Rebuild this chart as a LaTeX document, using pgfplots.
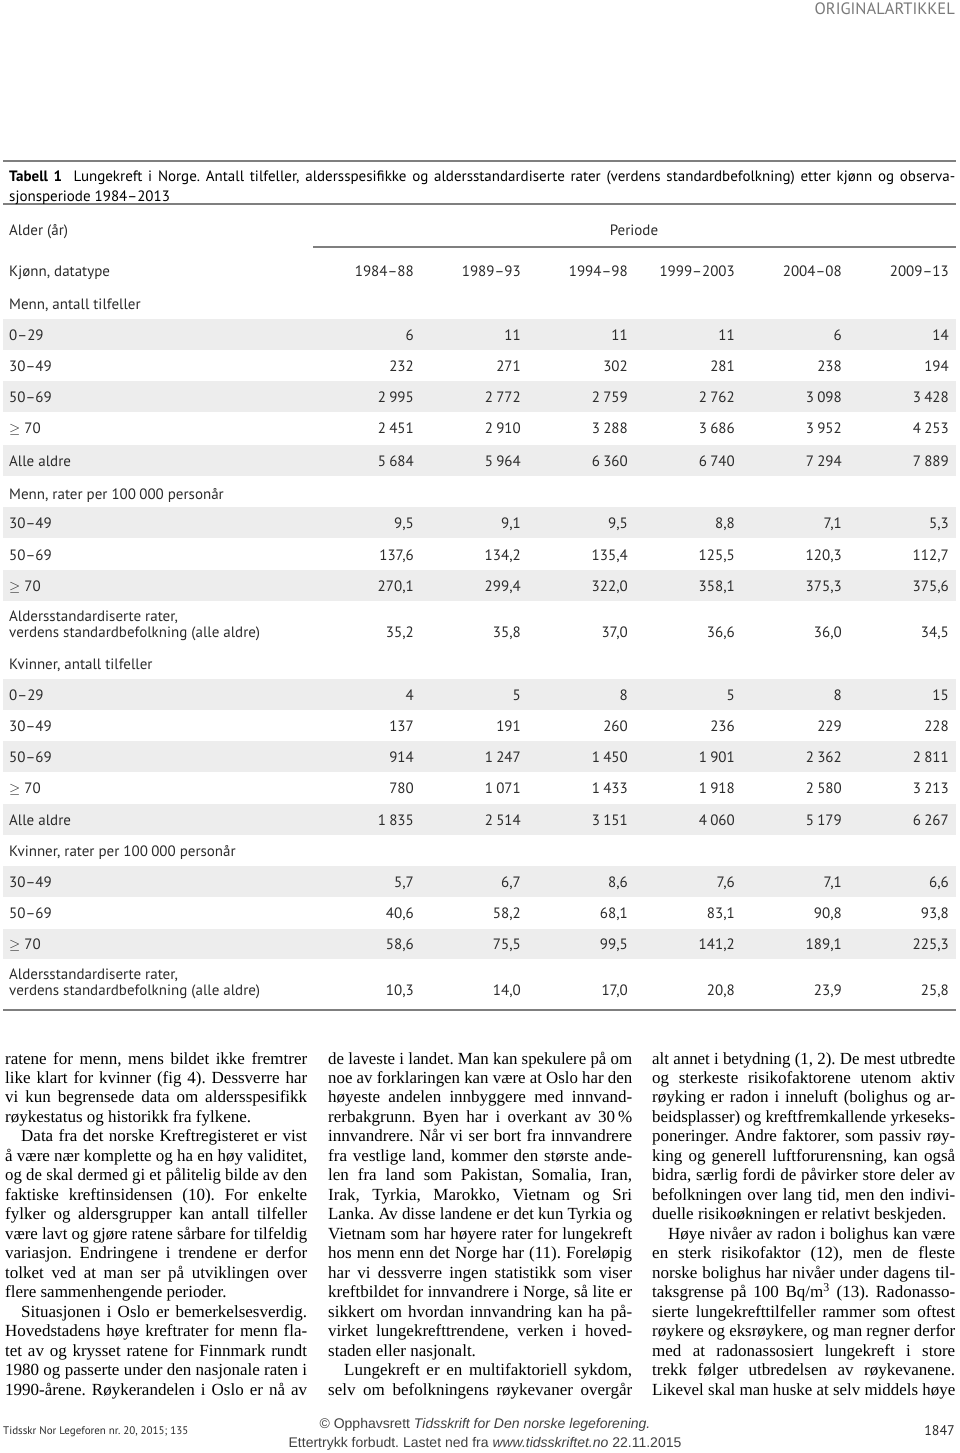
\documentclass[border=0pt]{standalone}
\usepackage{pgfplots}
\pgfplotsset{compat=1.18}
\usepackage{pgfplotstable}
\usepackage{graphicx}
\usepackage{fontspec}
\setmainfont{PT Sans}
\newfontfamily\tabfont[Ligatures=TeX]{PT Sans}
\newfontfamily\bodyfont[Ligatures=TeX]{Liberation Serif}
\newfontfamily\footfont{Liberation Sans}
\definecolor{tabtext}{HTML}{2B2B2B}
\definecolor{bandgray}{HTML}{EDEDED}
\definecolor{rulegray}{HTML}{7F7F7F}
\definecolor{headgray}{HTML}{7A7A7A}

\newlength\jlw
\newcommand\jline[2]{\settowidth\jlw{#2}\ifdim\jlw>#1\relax\resizebox{#1}{\height}{#2}\else\makebox[#1][s]{#2}\fi}
\newcommand\tf{\tabfont\fontsize{15}{17}\selectfont}
\newcommand\bodyf{\bodyfont\fontsize{17}{19}\selectfont}

\tikzset{
  lab/.style={anchor=base west, inner sep=0pt, font=\tf, text=tabtext},
  hd/.style={anchor=base east, inner sep=0pt, font=\tf, text=tabtext},
  bt/.style={anchor=base west, inner sep=0pt, font=\bodyf, text=black},
}

% y = baseline of the row (pixels from top)
\pgfplotstableread{
y c1 c2 c3 c4 c5 c6
340 6 11 11 11 6 14
371 232 271 302 281 238 194
402 2995 2772 2759 2762 3098 3428
433 2451 2910 3288 3686 3952 4253
466 5684 5964 6360 6740 7294 7889
}\menncount
\pgfplotstableread{
y c1 c2 c3 c4 c5 c6
528 9.5 9.1 9.5 8.8 7.1 5.3
560 137.6 134.2 135.4 125.5 120.3 112.7
591 270.1 299.4 322.0 358.1 375.3 375.6
637 35.2 35.8 37.0 36.6 36.0 34.5
}\mennrate
\pgfplotstableread{
y c1 c2 c3 c4 c5 c6
700 4 5 8 5 8 15
731 137 191 260 236 229 228
762 914 1247 1450 1901 2362 2811
793 780 1071 1433 1918 2580 3213
825 1835 2514 3151 4060 5179 6267
}\kvinnercount
\pgfplotstableread{
y c1 c2 c3 c4 c5 c6
887 5.7 6.7 8.6 7.6 7.1 6.6
918 40.6 58.2 68.1 83.1 90.8 93.8
949 58.6 75.5 99.5 141.2 189.1 225.3
995 10.3 14.0 17.0 20.8 23.9 25.8
}\kvinnerrate

\pgfplotsset{
  valstyle/.style={draw=none, mark=none, nodes near coords, point meta=explicit,
    every node near coord/.append style={anchor=base east, inner sep=0pt, font=\tf, text=tabtext}},
  countval/.style={valstyle, nodes near coords={\pgfmathprintnumber[fixed,precision=0,1000 sep={\hspace{0.22em}},assume math mode=true]{\pgfplotspointmeta}}},
  rateval/.style={valstyle, nodes near coords={\pgfmathprintnumber[fixed,fixed zerofill,precision=1,use comma,1000 sep={},assume math mode=true]{\pgfplotspointmeta}}},
}
\newcommand\valcols[2]{%
  \addplot[#2] table[x expr=414,y=y,meta=c1]{#1};
  \addplot[#2] table[x expr=521,y=y,meta=c2]{#1};
  \addplot[#2] table[x expr=628,y=y,meta=c3]{#1};
  \addplot[#2] table[x expr=735,y=y,meta=c4]{#1};
  \addplot[#2] table[x expr=842,y=y,meta=c5]{#1};
  \addplot[#2] table[x expr=949,y=y,meta=c6]{#1};
}

\begin{document}
\frenchspacing
\begin{tikzpicture}
\begin{axis}[
  width=960pt, height=1453pt, scale only axis,
  xmin=0, xmax=960, ymin=0, ymax=1453, y dir=reverse,
  hide axis, clip=false,
]
\fill[white] (axis cs:0,0) rectangle (axis cs:960,1453);

% header
\node[anchor=base east, inner sep=0pt, text=headgray, font=\tabfont\fontsize{16.5}{18}\selectfont] at (axis cs:955,15) {ORIGINALARTIKKEL};

% rules
\draw[rulegray, line width=2.2pt] (axis cs:3,161) -- (axis cs:956,161);
\draw[rulegray, line width=1.1pt] (axis cs:3,204) -- (axis cs:956,204);
\draw[rulegray, line width=1.1pt] (axis cs:313,247) -- (axis cs:956,247);
\draw[rulegray, line width=1.8pt] (axis cs:3,1010) -- (axis cs:956,1010);

% bands
\fill[bandgray] (axis cs:3,319) rectangle (axis cs:956,350);
\fill[bandgray] (axis cs:3,381) rectangle (axis cs:956,412);
\fill[bandgray] (axis cs:3,445) rectangle (axis cs:956,476);
\fill[bandgray] (axis cs:3,507) rectangle (axis cs:956,538);
\fill[bandgray] (axis cs:3,570) rectangle (axis cs:956,601);
\fill[bandgray] (axis cs:3,679) rectangle (axis cs:956,710);
\fill[bandgray] (axis cs:3,741) rectangle (axis cs:956,772);
\fill[bandgray] (axis cs:3,804) rectangle (axis cs:956,835);
\fill[bandgray] (axis cs:3,866) rectangle (axis cs:956,897);
\fill[bandgray] (axis cs:3,929) rectangle (axis cs:956,959);

% title
\node[lab, text=black] at (axis cs:9,181) {\jline{946pt}{\textbf{Tabell 1}\ \ Lungekreft i Norge. Antall tilfeller, aldersspesifikke og aldersstandardiserte rater (verdens standardbefolkning) etter kjønn og observa-}};
\node[lab, text=black] at (axis cs:9,201) {sjonsperiode 1984–2013};

\node[lab] at (axis cs:9,235) {Alder (år)};
\node[anchor=base, inner sep=0pt, font=\tf, text=tabtext] at (axis cs:634,235) {Periode};
\node[lab] at (axis cs:9,276) {Kjønn, datatype};
\node[hd] at (axis cs:414,276) {1984–88};
\node[hd] at (axis cs:521,276) {1989–93};
\node[hd] at (axis cs:628,276) {1994–98};
\node[hd] at (axis cs:735,276) {1999–2003};
\node[hd] at (axis cs:842,276) {2004–08};
\node[hd] at (axis cs:949,276) {2009–13};

% row labels
\node[lab] at (axis cs:9,309) {Menn, antall tilfeller};
\node[lab] at (axis cs:9,340) {0–29};
\node[lab] at (axis cs:9,371) {30–49};
\node[lab] at (axis cs:9,402) {50–69};
\node[lab] at (axis cs:9,433) {$\geq$ 70};
\node[lab] at (axis cs:9,466) {Alle aldre};
\node[lab] at (axis cs:9,499) {Menn, rater per 100\hspace{0.22em}000 personår};
\node[lab] at (axis cs:9,528) {30–49};
\node[lab] at (axis cs:9,560) {50–69};
\node[lab] at (axis cs:9,591) {$\geq$ 70};
\node[lab] at (axis cs:9,621) {Aldersstandardiserte rater,};
\node[lab] at (axis cs:9,637) {verdens standardbefolkning (alle aldre)};
\node[lab] at (axis cs:9,669) {Kvinner, antall tilfeller};
\node[lab] at (axis cs:9,700) {0–29};
\node[lab] at (axis cs:9,731) {30–49};
\node[lab] at (axis cs:9,762) {50–69};
\node[lab] at (axis cs:9,793) {$\geq$ 70};
\node[lab] at (axis cs:9,825) {Alle aldre};
\node[lab] at (axis cs:9,856) {Kvinner, rater per 100\hspace{0.22em}000 personår};
\node[lab] at (axis cs:9,887) {30–49};
\node[lab] at (axis cs:9,918) {50–69};
\node[lab] at (axis cs:9,949) {$\geq$ 70};
\node[lab] at (axis cs:9,979) {Aldersstandardiserte rater,};
\node[lab] at (axis cs:9,995) {verdens standardbefolkning (alle aldre)};

% values
\valcols{\menncount}{countval}
\valcols{\mennrate}{rateval}
\valcols{\kvinnercount}{countval}
\valcols{\kvinnerrate}{rateval}

% body text column 1
\node[bt] at (axis cs:5,1064.0) {\jline{302pt}{ratene for menn, mens bildet ikke fremtrer}};
\node[bt] at (axis cs:5,1083.5) {\jline{302pt}{like klart for kvinner (fig 4). Dessverre har}};
\node[bt] at (axis cs:5,1102.9) {\jline{302pt}{vi kun begrensede data om aldersspesifikk}};
\node[bt] at (axis cs:5,1122.4) {røykestatus og historikk fra fylkene.};
\node[bt] at (axis cs:21,1141.9) {\jline{286pt}{Data fra det norske Kreftregisteret er vist}};
\node[bt] at (axis cs:5,1161.4) {\jline{302pt}{å være nær komplette og ha en høy validitet,}};
\node[bt] at (axis cs:5,1180.8) {\jline{302pt}{og de skal dermed gi et pålitelig bilde av den}};
\node[bt] at (axis cs:5,1200.3) {\jline{302pt}{faktiske kreftinsidensen (10). For enkelte}};
\node[bt] at (axis cs:5,1219.8) {\jline{302pt}{fylker og aldersgrupper kan antall tilfeller}};
\node[bt] at (axis cs:5,1239.2) {\jline{302pt}{være lavt og gjøre ratene sårbare for tilfeldig}};
\node[bt] at (axis cs:5,1258.7) {\jline{302pt}{variasjon. Endringene i trendene er derfor}};
\node[bt] at (axis cs:5,1278.2) {\jline{302pt}{tolket ved at man ser på utviklingen over}};
\node[bt] at (axis cs:5,1297.6) {flere sammenhengende perioder.};
\node[bt] at (axis cs:21,1317.1) {\jline{286pt}{Situasjonen i Oslo er bemerkelsesverdig.}};
\node[bt] at (axis cs:5,1336.6) {\jline{302pt}{Hovedstadens høye kreftrater for menn fla-}};
\node[bt] at (axis cs:5,1356.1) {\jline{302pt}{tet av og krysset ratene for Finnmark rundt}};
\node[bt] at (axis cs:5,1375.5) {\jline{302pt}{1980 og passerte under den nasjonale raten i}};
\node[bt] at (axis cs:5,1395.0) {\jline{302pt}{1990-årene. Røykerandelen i Oslo er nå av}};

% body text column 2
\node[bt] at (axis cs:328,1064.0) {\jline{304pt}{de laveste i landet. Man kan spekulere på om}};
\node[bt] at (axis cs:328,1083.5) {\jline{304pt}{noe av forklaringen kan være at Oslo har den}};
\node[bt] at (axis cs:328,1102.9) {\jline{304pt}{høyeste andelen innbyggere med innvand-}};
\node[bt] at (axis cs:328,1122.4) {\jline{304pt}{rerbakgrunn. Byen har i overkant av 30\,\%}};
\node[bt] at (axis cs:328,1141.9) {\jline{304pt}{innvandrere. Når vi ser bort fra innvandrere}};
\node[bt] at (axis cs:328,1161.4) {\jline{304pt}{fra vestlige land, kommer den største ande-}};
\node[bt] at (axis cs:328,1180.8) {\jline{304pt}{len fra land som Pakistan, Somalia, Iran,}};
\node[bt] at (axis cs:328,1200.3) {\jline{304pt}{Irak, Tyrkia, Marokko, Vietnam og Sri}};
\node[bt] at (axis cs:328,1219.8) {\jline{304pt}{Lanka. Av disse landene er det kun Tyrkia og}};
\node[bt] at (axis cs:328,1239.2) {\jline{304pt}{Vietnam som har høyere rater for lungekreft}};
\node[bt] at (axis cs:328,1258.7) {\jline{304pt}{hos menn enn det Norge har (11). Foreløpig}};
\node[bt] at (axis cs:328,1278.2) {\jline{304pt}{har vi dessverre ingen statistikk som viser}};
\node[bt] at (axis cs:328,1297.6) {\jline{304pt}{kreftbildet for innvandrere i Norge, så lite er}};
\node[bt] at (axis cs:328,1317.1) {\jline{304pt}{sikkert om hvordan innvandring kan ha på-}};
\node[bt] at (axis cs:328,1336.6) {\jline{304pt}{virket lungekrefttrendene, verken i hoved-}};
\node[bt] at (axis cs:328,1356.1) {staden eller nasjonalt.};
\node[bt] at (axis cs:344,1375.5) {\jline{288pt}{Lungekreft er en multifaktoriell sykdom,}};
\node[bt] at (axis cs:328,1395.0) {\jline{304pt}{selv om befolkningens røykevaner overgår}};

% body text column 3
\node[bt] at (axis cs:652,1064.0) {\jline{303pt}{alt annet i betydning (1, 2). De mest utbredte}};
\node[bt] at (axis cs:652,1083.5) {\jline{303pt}{og sterkeste risikofaktorene utenom aktiv}};
\node[bt] at (axis cs:652,1102.9) {\jline{303pt}{røyking er radon i inneluft (bolighus og ar-}};
\node[bt] at (axis cs:652,1122.4) {\jline{303pt}{beidsplasser) og kreftfremkallende yrkeseks-}};
\node[bt] at (axis cs:652,1141.9) {\jline{303pt}{poneringer. Andre faktorer, som passiv røy-}};
\node[bt] at (axis cs:652,1161.4) {\jline{303pt}{king og generell luftforurensning, kan også}};
\node[bt] at (axis cs:652,1180.8) {\jline{303pt}{bidra, særlig fordi de påvirker store deler av}};
\node[bt] at (axis cs:652,1200.3) {\jline{303pt}{befolkningen over lang tid, men den indivi-}};
\node[bt] at (axis cs:652,1219.8) {duelle risikoøkningen er relativt beskjeden.};
\node[bt] at (axis cs:668,1239.2) {\jline{287pt}{Høye nivåer av radon i bolighus kan være}};
\node[bt] at (axis cs:652,1258.7) {\jline{303pt}{en sterk risikofaktor (12), men de fleste}};
\node[bt] at (axis cs:652,1278.2) {\jline{303pt}{norske bolighus har nivåer under dagens til-}};
\node[bt] at (axis cs:652,1297.6) {\jline{303pt}{taksgrense på 100 Bq/m\textsuperscript{3} (13). Radonasso-}};
\node[bt] at (axis cs:652,1317.1) {\jline{303pt}{sierte lungekrefttilfeller rammer som oftest}};
\node[bt] at (axis cs:652,1336.6) {\jline{303pt}{røykere og eksrøykere, og man regner derfor}};
\node[bt] at (axis cs:652,1356.1) {\jline{303pt}{med at radonassosiert lungekreft i store}};
\node[bt] at (axis cs:652,1375.5) {\jline{303pt}{trekk følger utbredelsen av røykevanene.}};
\node[bt] at (axis cs:652,1395.0) {\jline{303pt}{Likevel skal man huske at selv middels høye}};

% footer
\node[anchor=base west, inner sep=0pt, font=\tabfont\fontsize{11}{13}\selectfont, text=tabtext] at (axis cs:3,1434) {Tidsskr Nor Legeforen nr. 20, 2015; 135};
\node[anchor=base, inner sep=0pt, font=\footfont\fontsize{14}{16}\selectfont, text=black!75] at (axis cs:485,1428) {© Opphavsrett \textit{Tidsskrift for Den norske legeforening.}};
\node[anchor=base, inner sep=0pt, font=\footfont\fontsize{14}{16}\selectfont, text=black!75] at (axis cs:485,1447) {Ettertrykk forbudt. Lastet ned fra \textit{www.tidsskriftet.no} 22.11.2015};
\node[anchor=base east, inner sep=0pt, font=\tabfont\fontsize{14}{16}\selectfont, text=tabtext] at (axis cs:955,1435) {1847};
\end{axis}
\end{tikzpicture}
\end{document}
